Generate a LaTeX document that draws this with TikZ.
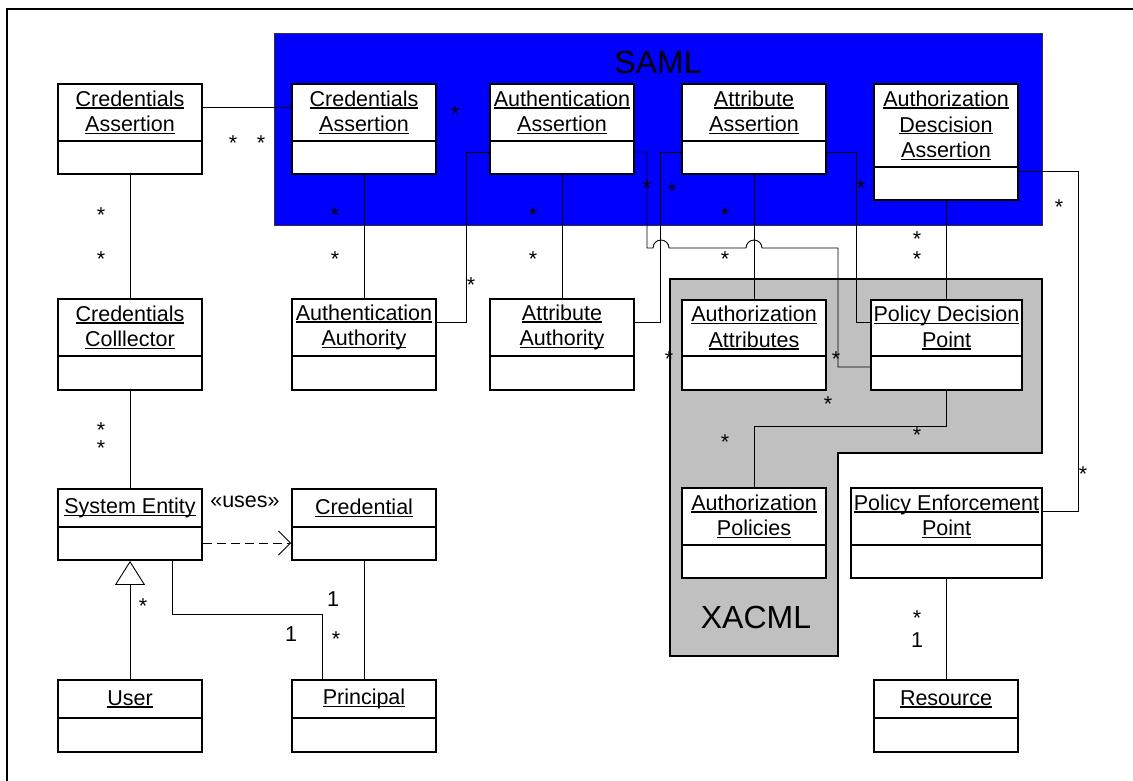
\documentclass[tikz,border=0pt]{standalone}
\usepackage{fontspec}
\setmainfont{Liberation Sans}
\usetikzlibrary{arrows.meta}
\newcommand{\myul}[1]{\setbox0=\hbox{#1}\rlap{\rule[-0.11em]{\wd0}{0.065em}}\box0}
\tikzset{
  clsbox/.style={draw=black, line width=1.8pt, fill=white, inner sep=0pt, rectangle},
  clsline/.style={line width=1.8pt},
  clstitle/.style={align=center, inner sep=0pt, font=\fontsize{21.5}{25.7}\selectfont},
  conn/.style={line width=0.9pt, line join=miter},
  mult/.style={inner sep=0pt, font=\fontsize{21.5}{25.7}\selectfont},
  pkgtitle/.style={inner sep=0pt, font=\fontsize{32}{38}\selectfont},
  frame/.style={line width=2pt},
  samlpkg/.style={draw=black!80, line width=1pt, fill={rgb,255:red,0;green,0;blue,255}, inner sep=0pt, rectangle},
  xacmlpkg/.style={draw=black, line width=1.8pt, fill={rgb,255:red,192;green,192;blue,192}},
  dep/.style={conn, dash pattern=on 9pt off 5pt, -{Straight Barb[length=12pt,width=24pt,line width=0.9pt]}},
  gen/.style={conn, -{Triangle[open,length=24pt,width=30pt,line width=0.9pt]}},
}
\newcommand{\umlbox}[7]{%
  \node[clsbox, minimum width={(#3)-(#2)}, minimum height={(#6)-(#4)}] (#1) at ({((#2)+(#3))/2},{((#4)+(#6))/2}) {};
  \draw[clsline] (#1.west |- 0,#5) -- (#1.east |- 0,#5);
  \node[clstitle] (#1-t) at ({((#2)+(#3))/2},{((#4)+(#5))/2}) {#7};
}
\newcommand{\mst}[3]{\node[mult, anchor=base] (#1) at (#2,{(#3)+12.4}) {*};}
\newcommand{\mone}[3]{\node[mult, anchor=base] (#1) at (#2,{(#3)+7.7}) {1};}
\begin{document}
\begin{tikzpicture}[x=1pt,y=-1pt]
\clip (0,0) rectangle (1133,780);
\fill[white] (0,0) rectangle (1133,780);
\draw[frame] (7,800) -- (7,9) -- (1150,9);

% packages
\node[samlpkg, minimum width=768pt, minimum height=192pt] (saml) at (658,129) {};
\draw[xacmlpkg] (670,279) -- (1042,279) -- (1042,453) -- (838,453) -- (838,656) -- (670,656) -- cycle;
\node[pkgtitle, anchor=base] (samllbl) at (658,73) {SAML};
\node[pkgtitle, anchor=base] (xacmllbl) at (756,628) {XACML};

% classes
\umlbox{lca}{58}{202}{84}{141}{174}{\myul{Credentials}\\\myul{Assertion}}
\umlbox{sca}{292}{436}{84}{141}{174}{\myul{Credentials}\\\myul{Assertion}}
\umlbox{aua}{490}{634}{84}{141}{174}{\myul{Authentication}\\\myul{Assertion}}
\umlbox{ata}{682}{826}{84}{141}{174}{\myul{Attribute}\\\myul{Assertion}}
\umlbox{ada}{874}{1018}{84}{167}{200}{\myul{Authorization}\\\myul{Descision}\\\myul{Assertion}}
\umlbox{cc}{58}{202}{299}{356}{390}{\myul{Credentials}\\\myul{Colllector}}
\umlbox{aa}{292}{436}{299}{356}{390}{\myul{Authentication}\\\myul{Authority}}
\umlbox{atau}{490}{634}{299}{356}{390}{\myul{Attribute}\\\myul{Authority}}
\umlbox{azat}{682}{826}{300}{356}{390}{\myul{Authorization}\\\myul{Attributes}}
\umlbox{pdp}{871}{1022}{300}{356}{390}{\myul{Policy Decision}\\\myul{Point}}
\umlbox{se}{58}{202}{489}{527}{560}{\myul{System Entity}}
\umlbox{cred}{292}{436}{489}{527}{560}{\myul{Credential}}
\umlbox{azpol}{682}{826}{488}{545}{578}{\myul{Authorization}\\\myul{Policies}}
\umlbox{pep}{851}{1042}{488}{545}{578}{\myul{Policy Enforcement}\\\myul{Point}}
\umlbox{user}{58}{202}{680}{718}{752}{\myul{User}}
\umlbox{prin}{292}{436}{680}{718}{752}{\myul{Principal}}
\umlbox{res}{874}{1018}{680}{718}{752}{\myul{Resource}}

% connectors
\draw[conn] (lca.east |- 0,107) -- (sca.west |- 0,107);
\draw[conn] (lca.south) -- (cc.north);
\draw[conn] (sca.south) -- (aa.north);
\draw[conn] (aua.west |- 0,152) -- (466,152) -- (466,322) -- (aa.east |- 0,322);
\draw[conn] (aua.south) -- (aua.south |- atau.north);
\draw[conn] (aua.east |- 0,152) -- (647,152) -- (647,248) -- (653,248) arc (180:360:8) -- (746,248) arc (180:360:8) -- (838,248) -- (838,367) -- (pdp.west |- 0,367);
\draw[conn] (ata.west |- 0,152) -- (660,152) -- (660,322) -- (atau.east |- 0,322);
\draw[conn] (ata.south) -- (ata.south |- azat.north);
\draw[conn] (ata.east |- 0,152) -- (856,152) -- (856,322) -- (pdp.west |- 0,322);
\draw[conn] (ada.south) -- (ada.south |- pdp.north);
\draw[conn] (pdp.south -| 946,0) -- (946,426) -- (754,426) -- (azpol.north);
\draw[conn] (ada.east |- 0,171) -- (1078,171) -- (1078,511) -- (pep.east |- 0,511);
\draw[conn] (pep.south -| 946,0) -- (res.north);
\draw[conn] (cc.south) -- (se.north);
\draw[dep] (se.east |- 0,543) -- (cred.west |- 0,543);
\draw[gen] (user.north) -- (se.south);
\draw[conn] (se.south -| 172,0) -- (172,614) -- (322,614) -- (prin.north -| 322,0);
\draw[conn] (cred.south) -- (prin.north);

% labels
\node[mult, anchor=base] (uses) at (245,507) {«uses»};
\mst{s1}{233}{138}
\mst{s2}{261}{138}
\mst{s3}{455}{109}
\mst{s4}{101}{210}
\mst{s5}{101}{254}
\mst{s6}{335}{210}
\mst{s7}{335}{254}
\mst{s8}{471}{280}
\mst{s9}{533}{210}
\mst{s10}{533}{254}
\mst{s11}{647}{183}
\mst{s12}{672}{186}
\mst{s13}{725}{210}
\mst{s14}{725}{254}
\mst{s15}{861}{183}
\mst{s16}{1059}{202}
\mst{s17}{917}{234}
\mst{s18}{917}{254}
\mst{s19}{669}{354}
\mst{s20}{836}{354}
\mst{s21}{828}{399}
\mst{s22}{917}{430}
\mst{s23}{725}{437}
\mst{s24}{1083}{469}
\mst{s25}{917}{613}
\mst{s26}{101}{425}
\mst{s27}{101}{443}
\mst{s28}{143}{601}
\mst{s29}{336}{634}
\mone{o1}{291}{634}
\mone{o2}{333}{599}
\mone{o3}{917}{640}
\end{tikzpicture}
\end{document}
